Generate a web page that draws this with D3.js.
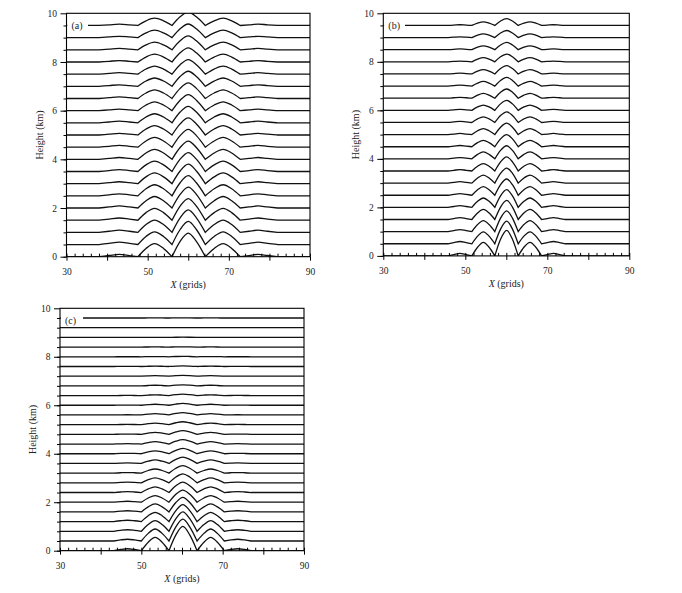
<!DOCTYPE html>
<html>
<head>
<meta charset="utf-8">
<script src="https://cdn.jsdelivr.net/npm/d3@7/dist/d3.min.js"></script>
<style>
body { margin: 0; background: #fff; }
text { font-family: "Liberation Serif", "Times New Roman", serif; }
</style>
</head>
<body>
<div id="chart"></div>
<script>
// displacement profile knots (x in grids, relative to the centre hump)
let shapeAX = [30, 38, 40.5, 43, 45.5, 47.6, 49.6, 51.7, 53.9, 56, 58, 60, 62, 64.2, 66.4, 68.6, 70.7, 72.8, 75, 77.2, 79.5, 82, 90]
let shapeAV = [0, 0, 0.05, 0.1, 0.05, 0, 0.35, 0.55, 0.35, 0, 0.65, 1, 0.65, 0, 0.35, 0.55, 0.35, 0, 0.05, 0.1, 0.05, 0, 0]

let shapeBX = [30, 45.8, 47.2, 48.7, 50.2, 51.6, 53, 54.4, 55.8, 57.2, 58.6, 60.1, 61.5, 62.9, 64.3, 65.8, 67.2, 68.6, 70, 71.5, 73, 74.4, 90]
let shapeBV = [0, 0, 0.05, 0.1, 0.05, 0, 0.34, 0.53, 0.34, 0, 0.65, 1, 0.65, 0, 0.34, 0.53, 0.34, 0, 0.05, 0.1, 0.05, 0, 0]

let shapeCX = [30, 43.2, 44.9, 46.6, 48.3, 50, 51.7, 53.4, 55.1, 56.8, 58.5, 60.2, 61.9, 63.7, 65.4, 67.05, 68.7, 70.4, 72, 73.7, 75.4, 77, 90]
let shapeCV = [0, 0, 0.05, 0.08, 0.05, 0, 0.35, 0.55, 0.35, 0, 0.65, 1, 0.65, 0, 0.35, 0.55, 0.35, 0, 0.05, 0.08, 0.05, 0, 0]

// base heights (km) of the lines and the amplitude of the centre hump (km)
let levelsAB = [0, 0.5, 1, 1.5, 2, 2.5, 3, 3.5, 4, 4.5, 5, 5.5, 6, 6.5, 7, 7.5, 8, 8.5, 9, 9.5]
let ampA = [0.97, 0.95, 0.92, 0.89, 0.86, 0.83, 0.8, 0.78, 0.75, 0.73, 0.7, 0.68, 0.66, 0.64, 0.62, 0.6, 0.58, 0.57, 0.56, 0.55]
let ampB = [1.05, 0.93, 0.86, 0.79, 0.73, 0.67, 0.62, 0.58, 0.54, 0.5, 0.47, 0.44, 0.41, 0.38, 0.36, 0.34, 0.32, 0.3, 0.29, 0.28]

let levelsC = [0, 0.4, 0.8, 1.2, 1.6, 2, 2.4, 2.8, 3.2, 3.6, 4, 4.4, 4.8, 5.2, 5.6, 6, 6.4, 6.8, 7.2, 7.6, 8, 8.4, 8.8, 9.2, 9.6]
let ampC = [1, 0.9, 0.8, 0.7, 0.6, 0.5, 0.43, 0.37, 0.31, 0.26, 0.22, 0.18, 0.15, 0.12, 0.095, 0.075, 0.058, 0.045, 0.034, 0.025, 0.018, 0.012, 0.008, 0.005, 0.003]

let xTicks = [30, 40, 50, 60, 70, 80, 90]
let xTickLabels = [30, 50, 70, 90]
let yTicks = [0, 2, 4, 6, 8, 10]

let svg = d3.select("#chart")
    .append("svg")
        .attr("width", 682)
        .attr("height", 593)

let panels = [
    {id: "a", left: 66.5, right: 310, top: 13.3, bottom: 256.7, sx: shapeAX, sv: shapeAV, levels: levelsAB, amps: ampA, boxR: 88},
    {id: "b", left: 383.3, right: 629.3, top: 13.3, bottom: 255.9, sx: shapeBX, sv: shapeBV, levels: levelsAB, amps: ampB, boxR: 405},
    {id: "c", left: 60, right: 304, top: 308.3, bottom: 550.7, sx: shapeCX, sv: shapeCV, levels: levelsC, amps: ampC, boxR: 83}
]

panels.forEach(p => drawPanel(p))

function drawPanel(p) {
    let xScale = d3.scaleLinear().domain([30, 90]).range([p.left, p.right])
    let yScale = d3.scaleLinear().domain([0, 10]).range([p.bottom, p.top])
    let g = svg.append("g")

    g.append("clipPath")
        .attr("id", "clip" + p.id)
        .append("rect")
            .attr("x", p.left)
            .attr("y", p.top)
            .attr("width", p.right - p.left)
            .attr("height", p.bottom - p.top)

    let line = d3.line()
        .x(d => xScale(d[0]))
        .y(d => yScale(d[1]))
        .curve(d3.curveMonotoneX)

    // each hump is its own piece so the troughs stay pointed
    function pathFor(base, amp) {
        let segs = [], cur = []
        p.sx.forEach((sx, i) => {
            let pt = [sx, base + amp * p.sv[i]]
            cur.push(pt)
            if (p.sv[i] == 0 && cur.length > 1) {
                segs.push(cur)
                cur = [pt]
            }
        })
        if (cur.length > 1) segs.push(cur)
        return segs.map((s, i) => {
            let d = line(s)
            return i ? "L" + d.slice(1) : d
        }).join("")
    }

    g.append("g")
        .attr("clip-path", "url(#clip" + p.id + ")")
        .selectAll("path")
        .data(p.levels)
        .enter()
        .append("path")
            .attr("d", (d, i) => pathFor(d, p.amps[i]))
            .attr("fill", "none")
            .attr("stroke", "#111")
            .attr("stroke-width", 1.3)

    // label box in the upper left corner
    g.append("rect")
        .attr("x", p.left + 0.8)
        .attr("y", yScale(9.5) - 6.5)
        .attr("width", p.boxR - p.left - 0.8)
        .attr("height", 13)
        .attr("fill", "#fff")
    g.append("text")
        .attr("x", p.left + 5)
        .attr("y", yScale(9.5) + 3.5)
        .style("font-size", "10px")
        .attr("fill", "#222")
        .text("(" + p.id + ")")

    // frame
    g.append("rect")
        .attr("x", p.left)
        .attr("y", p.top)
        .attr("width", p.right - p.left)
        .attr("height", p.bottom - p.top)
        .attr("fill", "none")
        .attr("stroke", "#000")
        .attr("stroke-width", 1.1)

    let yAxis = g.append("g")
        .attr("transform", `translate(${p.left},0)`)
        .call(d3.axisLeft(yScale).tickValues(yTicks).tickSize(6).tickPadding(3.5))
    let yMinor = g.append("g")
        .attr("transform", `translate(${p.left},0)`)
        .call(d3.axisLeft(yScale).tickValues(p.levels).tickSize(3).tickFormat(""))

    let xAxis = g.append("g")
        .attr("transform", `translate(0,${p.bottom})`)
        .call(d3.axisBottom(xScale).tickValues(xTicks).tickSize(4).tickPadding(7.5)
            .tickFormat(d => xTickLabels.includes(d) ? d : ""))
    let xMinor = g.append("g")
        .attr("transform", `translate(0,${p.bottom})`)
        .call(d3.axisTop(xScale).ticks(30).tickSize(3).tickFormat(""))

    ;[yAxis, yMinor, xAxis, xMinor].forEach(a => {
        a.select(".domain").remove()
        a.selectAll("line").attr("stroke", "#000").attr("stroke-width", 1)
        a.selectAll("text")
            .style("font-family", "'Liberation Serif', 'Times New Roman', serif")
            .style("font-size", "9.5px")
            .attr("fill", "#222")
    })

    g.append("text")
        .attr("transform", `translate(${p.left - 24},${(p.top + p.bottom) / 2}) rotate(-90)`)
        .attr("text-anchor", "middle")
        .style("font-size", "10px")
        .attr("fill", "#222")
        .text("Height (km)")

    let xl = g.append("text")
        .attr("x", (p.left + p.right) / 2)
        .attr("y", p.bottom + 31.5)
        .attr("text-anchor", "middle")
        .style("font-size", "10px")
        .attr("fill", "#222")
    xl.append("tspan").style("font-style", "italic").text("X")
    xl.append("tspan").text(" (grids)")
}
</script>
</body>
</html>
